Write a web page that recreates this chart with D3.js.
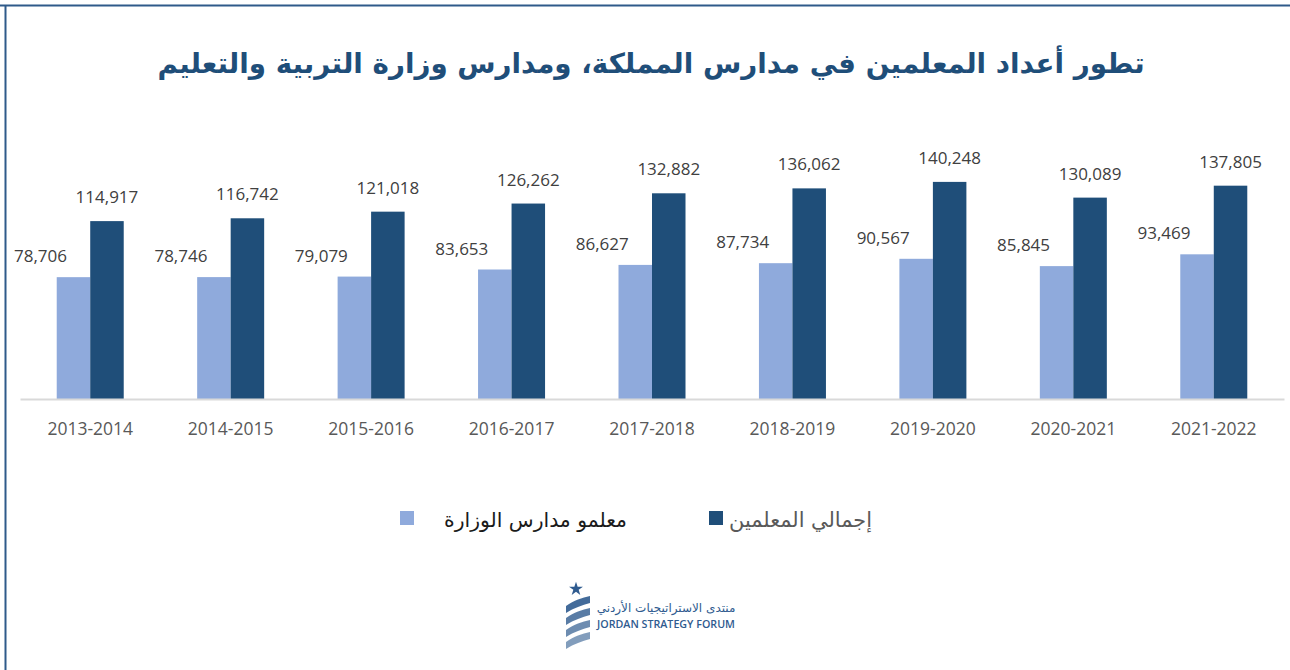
<!DOCTYPE html>
<html><head><meta charset="utf-8">
<script src="https://cdn.jsdelivr.net/npm/d3@7"></script>
<style>body{margin:0;background:#fff}svg{display:block}</style>
</head><body><svg id="c" width="1290" height="670"></svg>
<script>
const categories = ["2013-2014","2014-2015","2015-2016","2016-2017","2017-2018","2018-2019","2019-2020","2020-2021","2021-2022"];
const ministryTeachers = [78706,78746,79079,83653,86627,87734,90567,85845,93469];
const totalTeachers = [114917,116742,121018,126262,132882,136062,140248,130089,137805];
const seriesNames = ["معلمو مدارس الوزارة","إجمالي المعلمين"];
const titleText = "تطور أعداد المعلمين في مدارس المملكة، ومدارس وزارة التربية والتعليم";

const svg = d3.select("#c");
const dark = "#1f4e79", light = "#8faadc";
// frame
svg.append("line").attr("x1",0).attr("x2",1290).attr("y1",5.5).attr("y2",5.5).attr("stroke","#2f5a8a").attr("stroke-width",2);
svg.append("line").attr("x1",5.5).attr("x2",5.5).attr("y1",5).attr("y2",670).attr("stroke","#2f5a8a").attr("stroke-width",2);

function fit(sel, w){ const l = sel.node().getComputedTextLength(); const fs = parseFloat(sel.attr("font-size")); sel.attr("font-size", fs*w/l); }

const title = svg.append("text").attr("x",651).attr("y",73).attr("text-anchor","middle")
  .attr("font-family","DejaVu Sans").attr("font-weight","bold").attr("font-size",30)
  .attr("fill","#1f4e79").text(titleText);
fit(title, 988);

const x = d3.scaleBand().domain(categories).range([20,1284]).paddingInner(0).paddingOuter(0);
const y = d3.scaleLinear().domain([0,160000]).range([399,399-0.001548*160000]);
const bw = 33.5;

const g = svg.append("g");
g.selectAll(".l").data(categories).join("rect")
  .attr("x",d=>x(d)+x.bandwidth()/2-bw).attr("width",bw)
  .attr("y",(d,i)=>y(ministryTeachers[i])).attr("height",(d,i)=>y(0)-y(ministryTeachers[i]))
  .attr("fill",light);
g.selectAll(".d").data(categories).join("rect")
  .attr("x",d=>x(d)+x.bandwidth()/2).attr("width",bw)
  .attr("y",(d,i)=>y(totalTeachers[i])).attr("height",(d,i)=>y(0)-y(totalTeachers[i]))
  .attr("fill",dark);

const fmt = d3.format(",");
const lf = "Open Sans";
g.selectAll(".lt").data(categories).join("text")
  .attr("x",d=>x(d)+x.bandwidth()/2-bw/2-33).attr("y",(d,i)=>y(ministryTeachers[i])-15)
  .attr("text-anchor","middle").attr("font-family",lf).attr("font-size",17).attr("fill","#404040")
  .text((d,i)=>fmt(ministryTeachers[i]));
g.selectAll(".dt").data(categories).join("text")
  .attr("x",d=>x(d)+x.bandwidth()/2+bw/2).attr("y",(d,i)=>y(totalTeachers[i])-18)
  .attr("text-anchor","middle").attr("font-family",lf).attr("font-size",17).attr("fill","#404040")
  .text((d,i)=>fmt(totalTeachers[i]));

// axis
const ax = svg.append("g").attr("transform","translate(0,399)").call(d3.axisBottom(x).tickSize(0).tickPadding(24));
ax.select(".domain").attr("stroke","#d9d9d9").attr("stroke-width",2);
ax.selectAll("text").attr("font-family",lf).attr("font-size",17.5).attr("fill","#595959").attr("dy","0.71em");

// legend
svg.append("rect").attr("x",400).attr("y",511).attr("width",14).attr("height",14).attr("fill",light);
const l1 = svg.append("text").attr("x",535.5).attr("y",527).attr("text-anchor","middle")
  .attr("font-family","DejaVu Sans").attr("font-size",19).attr("fill","#1a1a1a").text(seriesNames[0]);
fit(l1,183);
svg.append("rect").attr("x",709).attr("y",511).attr("width",14).attr("height",14).attr("fill",dark);
const l2 = svg.append("text").attr("x",800.5).attr("y",527).attr("text-anchor","middle")
  .attr("font-family","DejaVu Sans").attr("font-size",19).attr("fill","#595959").text(seriesNames[1]);
fit(l2,143);

// logo
const lg = svg.append("g").attr("fill","#2f5b8f");
const star = d3.symbol().type(d3.symbolStar).size(60);
lg.append("path").attr("d",star()).attr("transform","translate(576,589)");
[0,1,2,3].forEach(k=>{
  const y0 = 598 + k*12;
  lg.append("path").attr("d",`M566,${y0+8} C574,${y0+2} 582,${y0} 590,${y0-2} L590,${y0+5} C582,${y0+7} 574,${y0+10} 566,${y0+15} Z`).attr("opacity",0.9-k*0.1);
});
svg.append("text").attr("x",666).attr("y",612).attr("text-anchor","middle").attr("font-family","DejaVu Sans").attr("font-size",12).attr("fill","#2f5b8f").text("منتدى الاستراتيجيات الأردني");
const jt = svg.append("text").attr("x",666).attr("y",628).attr("text-anchor","middle").attr("font-family","Open Sans").attr("font-weight","600").attr("font-size",12).attr("fill","#2f5b8f").text("JORDAN STRATEGY FORUM");
fit(jt,138);
</script></body></html>
